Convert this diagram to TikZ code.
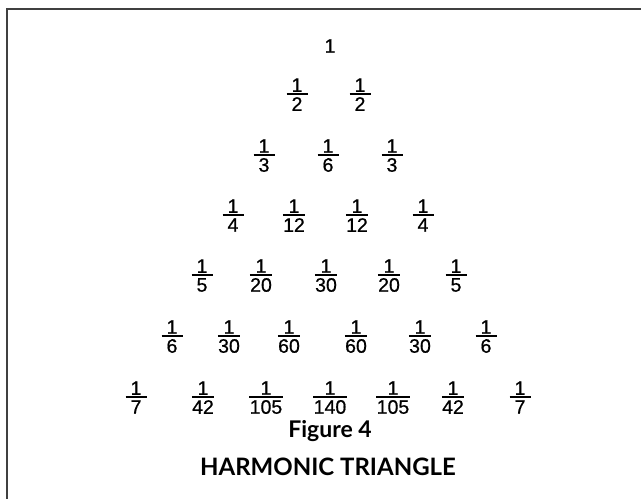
\documentclass[tikz,border=0pt]{standalone}
\usepackage{fontspec}
\setmainfont{Liberation Sans}
\newfontfamily\numfont{Liberation Sans}[FakeBold=0.7]
\newfontfamily\capfont{Lato}
\newdimen\frw
\newcommand{\fr}[2]{%
  \setbox0=\hbox{#2}\frw=\wd0 \advance\frw by 0.5pt\relax
  \ifdim\frw<21pt \frw=21pt\fi
  \vbox{\offinterlineskip\halign{\hfil##\hfil\cr #1\cr\noalign{\kern1.3pt}\vrule width\frw height1.8pt depth0pt\cr\noalign{\kern2.3pt}#2\cr}}}
\tikzset{
  num/.style={inner sep=0pt, font=\numfont\fontsize{19.5}{22}\selectfont},
  captext/.style={inner sep=0pt, font=\capfont\bfseries\fontsize{23}{26}\selectfont},
  titletext/.style={inner sep=0pt, font=\capfont\bfseries\fontsize{24}{26}\selectfont},
  frameline/.style={line width=2pt, draw=black!75}
}
\begin{document}
\begin{tikzpicture}[x=1pt,y=-1pt]
\useasboundingbox (0,0) rectangle (641,499);
\fill[white] (0,0) rectangle (641,499);
\draw[frameline] (641,8.5) -- (6.5,8.5) -- (6.5,499);
% row 1
\node[num] (r1c1) at (330,46) {1};
% row 2
\node[num] (r2c1) at (297,94.6) {\fr{1}{2}};
\node[num] (r2c2) at (360,94.6) {\fr{1}{2}};
% row 3
\node[num] (r3c1) at (264,155.6) {\fr{1}{3}};
\node[num] (r3c2) at (328,155.6) {\fr{1}{6}};
\node[num] (r3c3) at (392,155.6) {\fr{1}{3}};
% row 4
\node[num] (r4c1) at (233,215.6) {\fr{1}{4}};
\node[num] (r4c2) at (294,215.6) {\fr{1}{12}};
\node[num] (r4c3) at (357,215.6) {\fr{1}{12}};
\node[num] (r4c4) at (423,215.6) {\fr{1}{4}};
% row 5
\node[num] (r5c1) at (202,275.6) {\fr{1}{5}};
\node[num] (r5c2) at (261,275.6) {\fr{1}{20}};
\node[num] (r5c3) at (326,275.6) {\fr{1}{30}};
\node[num] (r5c4) at (389,275.6) {\fr{1}{20}};
\node[num] (r5c5) at (456,275.6) {\fr{1}{5}};
% row 6
\node[num] (r6c1) at (172,336.6) {\fr{1}{6}};
\node[num] (r6c2) at (229,336.6) {\fr{1}{30}};
\node[num] (r6c3) at (289,336.6) {\fr{1}{60}};
\node[num] (r6c4) at (356,336.6) {\fr{1}{60}};
\node[num] (r6c5) at (420,336.6) {\fr{1}{30}};
\node[num] (r6c6) at (486,336.6) {\fr{1}{6}};
% row 7
\node[num] (r7c1) at (136,397.6) {\fr{1}{7}};
\node[num] (r7c2) at (203,397.6) {\fr{1}{42}};
\node[num] (r7c3) at (266,397.6) {\fr{1}{105}};
\node[num] (r7c4) at (330,397.6) {\fr{1}{140}};
\node[num] (r7c5) at (393,397.6) {\fr{1}{105}};
\node[num] (r7c6) at (453,397.6) {\fr{1}{42}};
\node[num] (r7c7) at (520,397.6) {\fr{1}{7}};
% caption
\node[captext, anchor=base] (fig) at (330,437) {Figure 4};
\node[titletext, anchor=base] (title) at (328,475) {HARMONIC TRIANGLE};
\end{tikzpicture}
\end{document}
